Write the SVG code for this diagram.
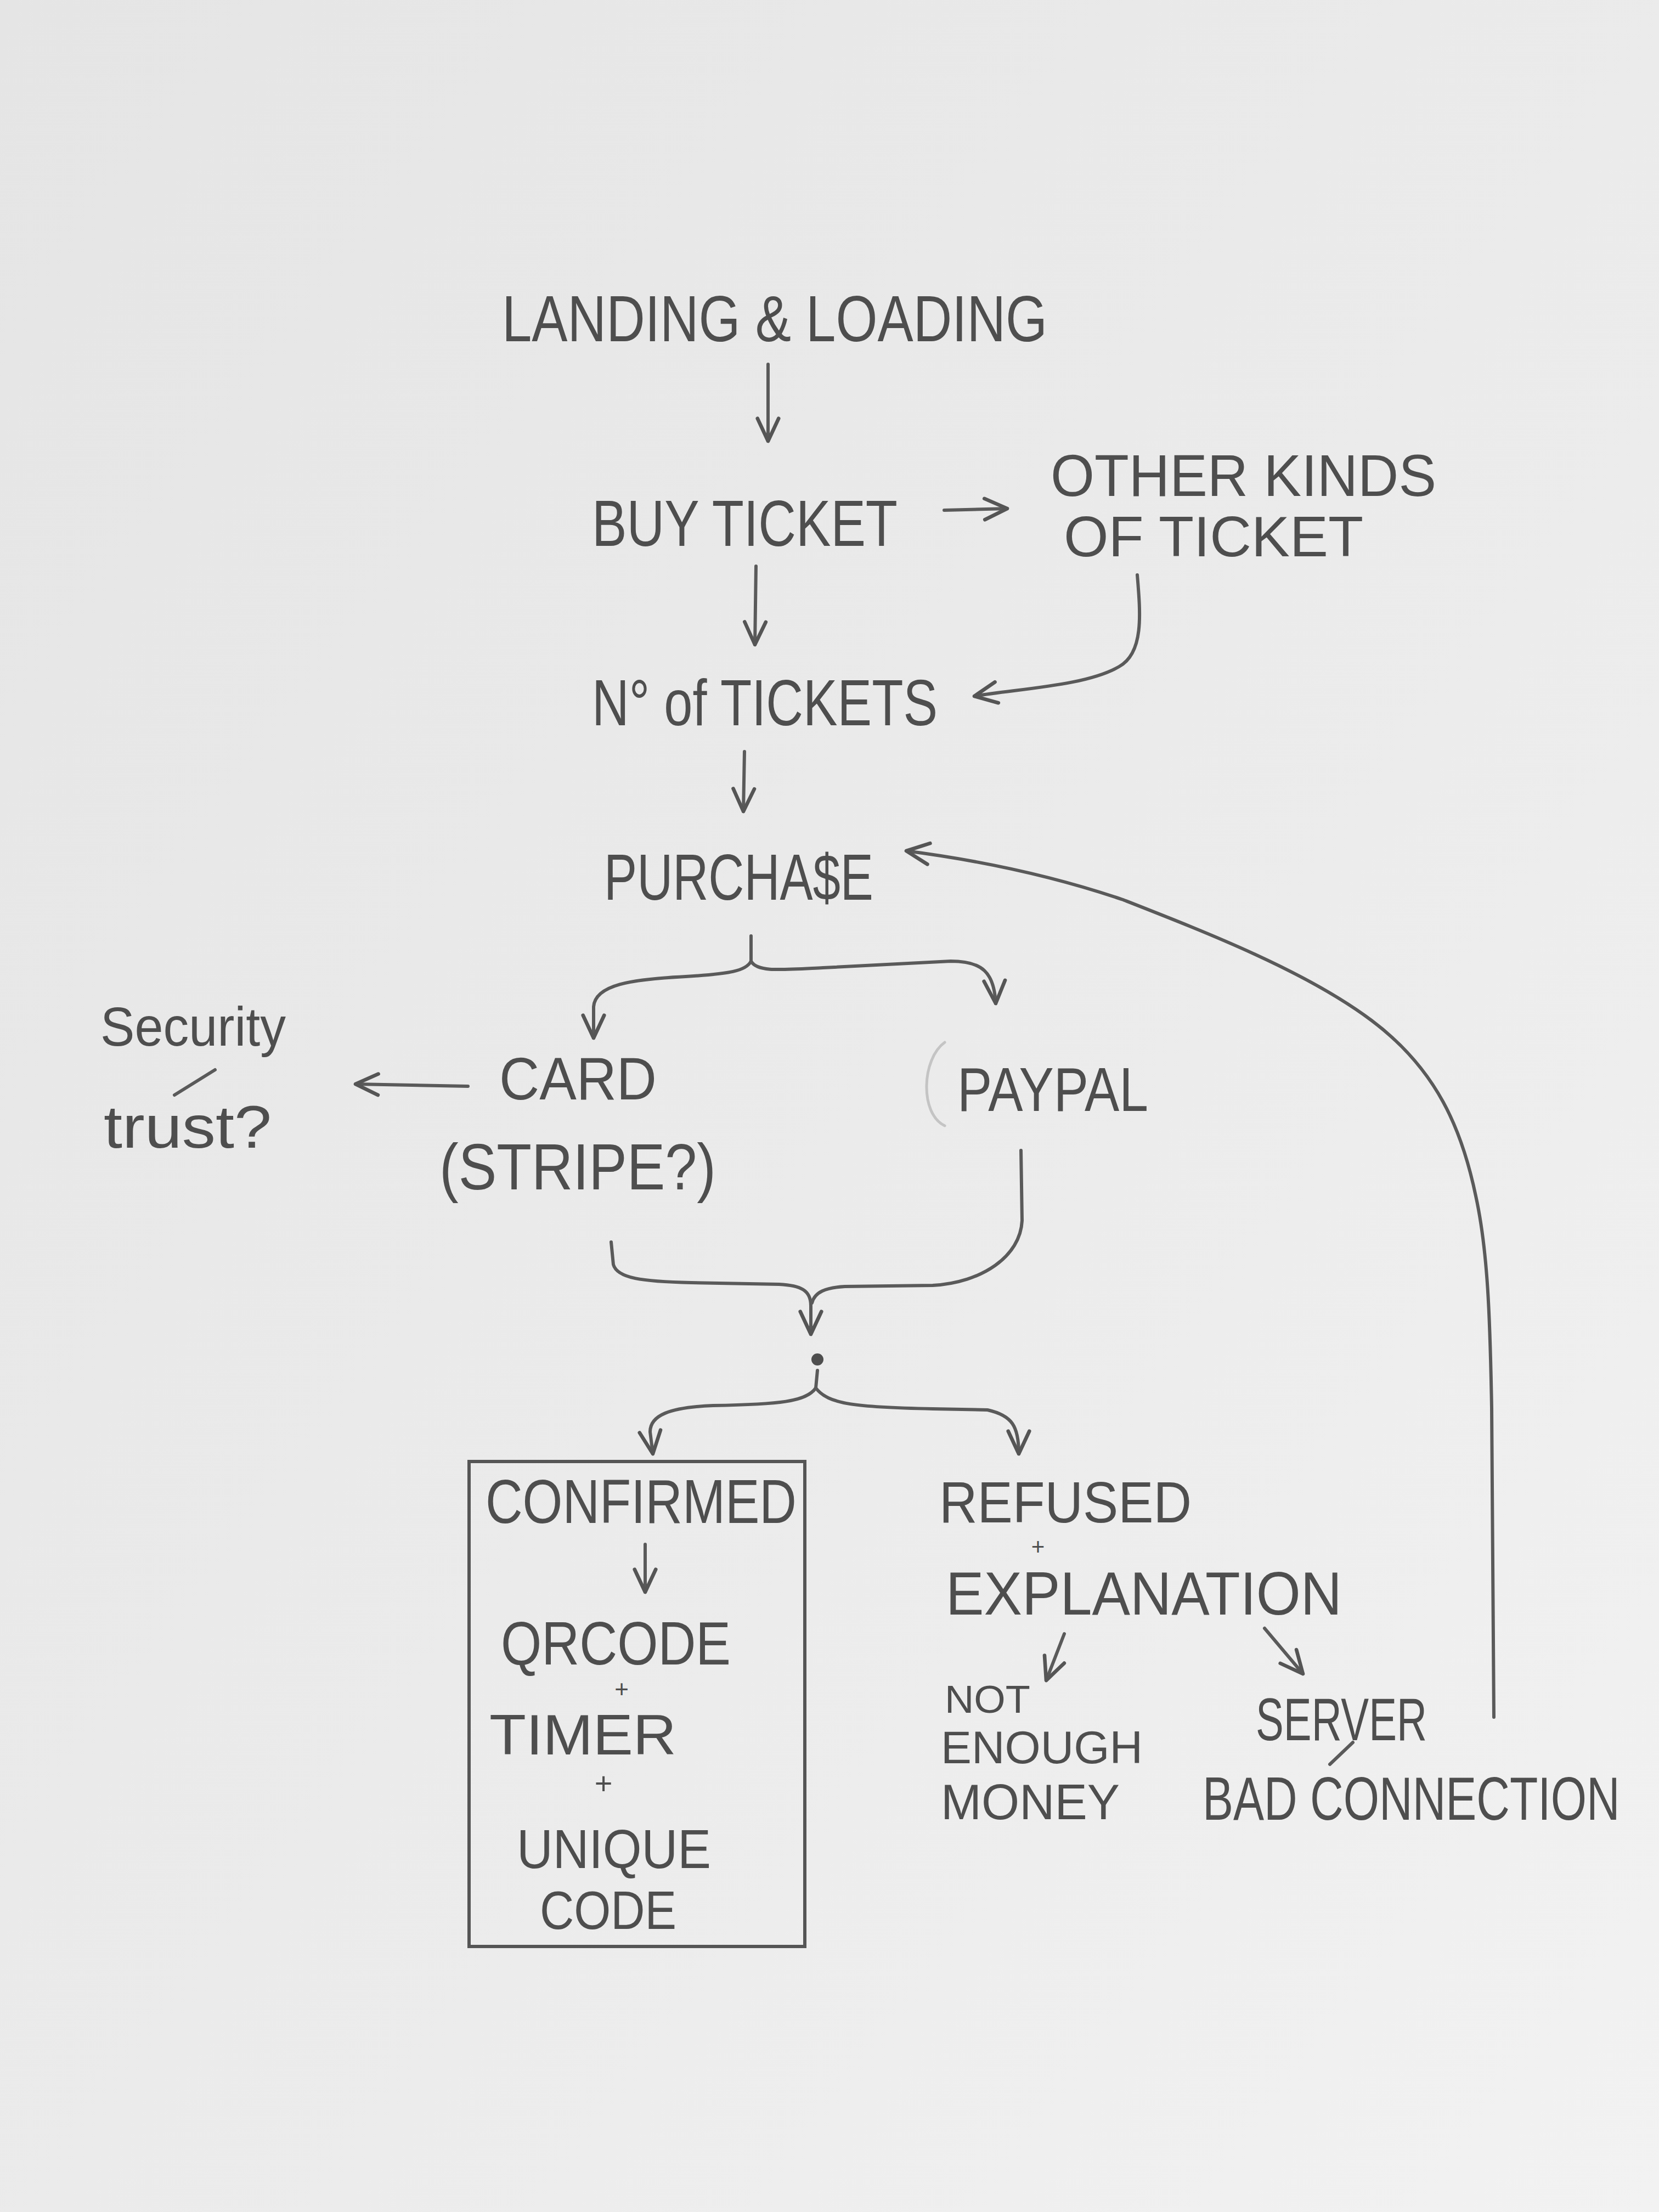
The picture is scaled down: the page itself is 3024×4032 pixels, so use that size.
<svg xmlns="http://www.w3.org/2000/svg" width="3024" height="4032" viewBox="0 0 3024 4032">
<defs>
<linearGradient id="paper" x1="0" y1="0" x2="1" y2="1">
<stop offset="0" stop-color="#e5e5e5"/>
<stop offset="0.6" stop-color="#ececec"/>
<stop offset="1" stop-color="#f2f2f2"/>
</linearGradient>
<marker id="arr" viewBox="0 0 20 20" refX="18" refY="10" markerWidth="55" markerHeight="55" markerUnits="userSpaceOnUse" orient="auto">
<path d="M3,3 L18,10 L3,17" fill="none" stroke="#555" stroke-width="2.4" stroke-linecap="round" stroke-linejoin="round"/>
</marker>
</defs>
<style>
.t { font-family: "Liberation Sans", "DejaVu Sans", sans-serif; fill: #4e4e4e; }
.c { fill: none; stroke: #5a5a5a; stroke-width: 6; stroke-linecap: round; stroke-linejoin: round; }
.ca { marker-end: url(#arr); }
.box { fill: none; stroke: #555; stroke-width: 6; }
</style>
<rect x="0" y="0" width="3024" height="4032" fill="url(#paper)"/>

<g id="landing"><text class="t" x="915" y="622" font-size="118" textLength="994" lengthAdjust="spacingAndGlyphs">LANDING &amp; LOADING</text></g>
<g id="buy"><text class="t" x="1079" y="995" font-size="118" textLength="557" lengthAdjust="spacingAndGlyphs">BUY TICKET</text></g>
<g id="other">
<text class="t" x="1915" y="904" font-size="108" textLength="703" lengthAdjust="spacingAndGlyphs">OTHER KINDS</text>
<text class="t" x="1939" y="1014" font-size="104" textLength="546" lengthAdjust="spacingAndGlyphs">OF TICKET</text>
</g>
<g id="number"><text class="t" x="1079" y="1322" font-size="118" textLength="630" lengthAdjust="spacingAndGlyphs">N° of TICKETS</text></g>
<g id="purchase"><text class="t" x="1101" y="1640" font-size="118" textLength="491" lengthAdjust="spacingAndGlyphs">PURCHA$E</text></g>
<g id="security">
<text class="t" x="183" y="1906" font-size="100" textLength="338" lengthAdjust="spacingAndGlyphs">Security</text>
<line class="c" x1="318" y1="1996" x2="392" y2="1950" stroke-width="5"/>
<text class="t" x="189" y="2092" font-size="110" textLength="306" lengthAdjust="spacingAndGlyphs">trust?</text>
</g>
<g id="card">
<text class="t" x="910" y="2004" font-size="110" textLength="287" lengthAdjust="spacingAndGlyphs">CARD</text>
<text class="t" x="801" y="2168" font-size="118" textLength="504" lengthAdjust="spacingAndGlyphs">(STRIPE?)</text>
</g>
<g id="paypal">
<path d="M1722 1900 C1680 1930 1676 2030 1722 2052" fill="none" stroke="#c4c4c4" stroke-width="5" stroke-linecap="round"/>
<text class="t" x="1745" y="2025" font-size="114" textLength="348" lengthAdjust="spacingAndGlyphs">PAYPAL</text>
</g>
<g id="result"><circle cx="1490" cy="2478" r="11" fill="#4e4e4e"/></g>
<g id="confirmed">
<rect class="box" x="855" y="2664" width="612" height="884"/>
<text class="t" x="885" y="2776" font-size="114" textLength="567" lengthAdjust="spacingAndGlyphs">CONFIRMED</text>
<text class="t" x="913" y="3034" font-size="112" textLength="419" lengthAdjust="spacingAndGlyphs">QRCODE</text>
<text class="t" x="1133" y="3094" font-size="44" text-anchor="middle">+</text>
<text class="t" x="892" y="3198" font-size="104" textLength="341" lengthAdjust="spacingAndGlyphs">TIMER</text>
<text class="t" x="1100" y="3270" font-size="56" text-anchor="middle">+</text>
<text class="t" x="942" y="3405" font-size="100" textLength="354" lengthAdjust="spacingAndGlyphs">UNIQUE</text>
<text class="t" x="984" y="3516" font-size="98" textLength="249" lengthAdjust="spacingAndGlyphs">CODE</text>
</g>
<g id="refused">
<text class="t" x="1712" y="2775" font-size="106" textLength="460" lengthAdjust="spacingAndGlyphs">REFUSED</text>
<text class="t" x="1892" y="2834" font-size="42" text-anchor="middle">+</text>
<text class="t" x="1724" y="2943" font-size="112" textLength="722" lengthAdjust="spacingAndGlyphs">EXPLANATION</text>
</g>
<g id="notenough">
<text class="t" x="1722" y="3122" font-size="70" textLength="156" lengthAdjust="spacingAndGlyphs">NOT</text>
<text class="t" x="1715" y="3214" font-size="84" textLength="368" lengthAdjust="spacingAndGlyphs">ENOUGH</text>
<text class="t" x="1715" y="3316" font-size="90" textLength="326" lengthAdjust="spacingAndGlyphs">MONEY</text>
</g>
<g id="server">
<text class="t" x="2289" y="3172" font-size="110" textLength="312" lengthAdjust="spacingAndGlyphs">SERVER</text>
<line class="c" x1="2424" y1="3216" x2="2466" y2="3176" stroke-width="5"/>
<text class="t" transform="translate(2192 3317) scale(0.75 1)" x="0" y="0" font-size="112">BAD CONNECTION</text>
</g>

<g id="connectors">
<path class="c ca" d="M1400 664 L1400 804"/>
<path class="c ca" d="M1721 930 L1836 927"/>
<path class="c ca" d="M1378 1032 L1376 1175"/>
<path class="c ca" d="M2073 1048 C2079 1120 2085 1190 2040 1215 C1980 1250 1860 1255 1776 1269"/>
<path class="c ca" d="M1357 1370 L1355 1479"/>
<path class="c ca" d="M1369 1706 L1369 1752 C1360 1770 1330 1775 1250 1780 C1150 1785 1085 1795 1082 1835 L1082 1892"/>
<path class="c ca" d="M1369 1752 C1380 1772 1420 1768 1500 1764 L1733 1752 C1790 1752 1812 1772 1815 1829"/>
<path class="c ca" d="M853 1980 L648 1976"/>
<path class="c ca" d="M1114 2264 L1118 2305 C1125 2330 1170 2336 1260 2338 L1420 2341 C1460 2343 1478 2352 1478 2380 L1478 2432"/>
<path class="c" d="M1861 2097 L1863 2225 C1860 2290 1790 2338 1700 2343 L1540 2345 C1505 2347 1485 2355 1480 2375"/>
<path class="c ca" d="M1490 2498 L1487 2530 C1470 2555 1420 2560 1300 2562 C1220 2565 1185 2580 1185 2610 L1190 2650"/>
<path class="c ca" d="M1487 2530 C1510 2560 1560 2565 1700 2568 L1800 2570 C1845 2580 1857 2600 1857 2650"/>
<path class="c ca" d="M1176 2815 L1176 2902"/>
<path class="c ca" d="M1940 2978 L1907 3063"/>
<path class="c ca" d="M2305 2968 L2375 3051"/>
<path class="c ca" d="M2723 3130 L2719 2566 C2716 2400 2712 2280 2690 2180 C2665 2060 2620 1950 2500 1860 C2380 1770 2200 1700 2047 1640 C1900 1590 1760 1565 1652 1551"/>
</g>
</svg>
